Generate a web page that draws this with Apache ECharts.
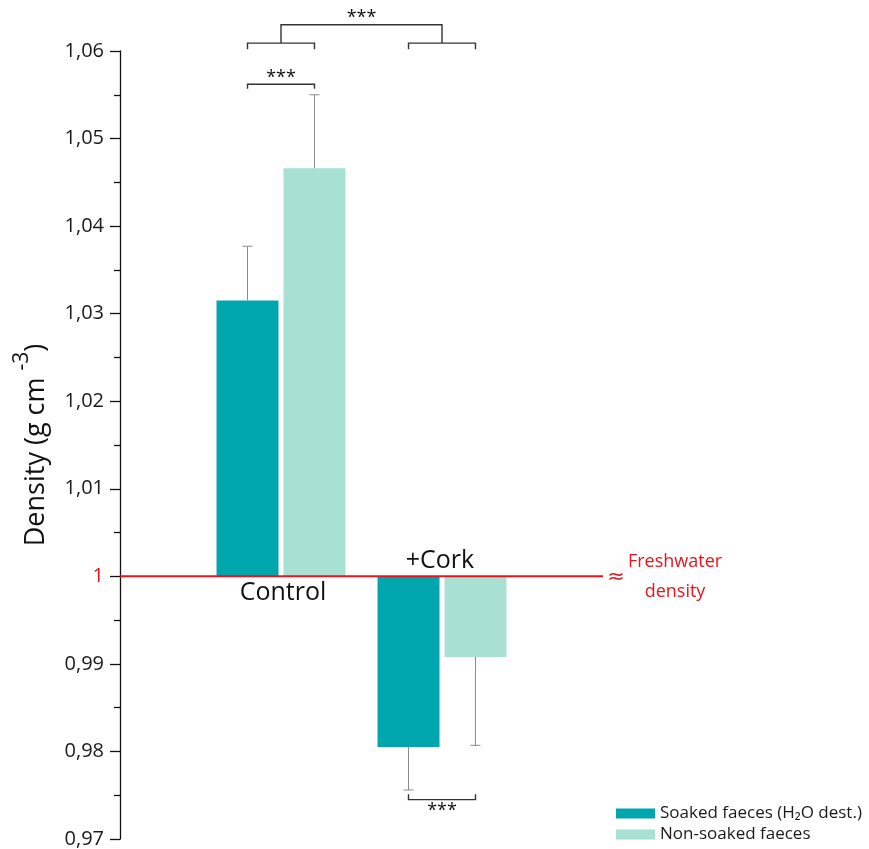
<!DOCTYPE html>
<html><head><meta charset="utf-8">
<script src="https://cdn.jsdelivr.net/npm/echarts@6/dist/echarts.min.js"></script>
<style>html,body{margin:0;padding:0;background:#fff}#c{width:869px;height:849px}</style>
</head><body><div id="c"></div>
<script>
const categories = ['Control', '+Cork'];
const seriesNames = ['Soaked faeces (H\u2082O dest.)', 'Non-soaked faeces'];
const soaked = [1.0315, 0.9805];
const soakedErr = [0.0062, 0.0049];
const nonSoaked = [1.0466, 0.9908];
const nonSoakedErr = [0.0084, 0.0101];
const yTicks = { min: 0.97, max: 1.06, interval: 0.01 };
const freshwaterDensity = 1;
// significance brackets (values in data units)
const sigWithinTop = { group: 0, y: 1.0562, drop: 1.0557, label: '***' };
const sigWithinBottom = { group: 1, y: 0.9745, drop: 0.9751, label: '***' };
const sigBetween = { y: 1.0630, small: 1.0609, smallDrop: 1.0602, label: '***' };

const FONT = 'Open Sans';
const BAR_W = 0.385, OFF = 0.208;
const colSoaked = '#00A6AE', colNon = '#A8E0D4';

function barSeries(name, vals, errs, off, color) {
  return {
    name, type: 'custom', color, itemStyle: { color },
    data: vals.map((v, i) => [i, v, errs[i]]),
    z: 2,
    renderItem(params, api) {
      const x = api.value(0) + 1 + off, v = api.value(1), e = api.value(2);
      const w = api.size([BAR_W, 0])[0];
      const p1 = api.coord([x, freshwaterDensity]);
      const p2 = api.coord([x, v]);
      const pe = api.coord([x, v >= freshwaterDensity ? v + e : v - e]);
      return { type: 'group', children: [
        { type: 'rect', shape: { x: p1[0] - w / 2, y: Math.min(p1[1], p2[1]), width: w, height: Math.abs(p2[1] - p1[1]) }, style: { fill: color } },
        { type: 'line', shape: { x1: p2[0], y1: p2[1], x2: pe[0], y2: pe[1] }, style: { stroke: '#8a8a8a', lineWidth: 1 } },
        { type: 'line', shape: { x1: pe[0] - 5, y1: pe[1], x2: pe[0] + 5, y2: pe[1] }, style: { stroke: '#8a8a8a', lineWidth: 1 } }
      ]};
    }
  };
}

function bracket(api, xa, xb, y, yd) {
  const a = api.coord([xa, y]), b = api.coord([xb, y]);
  const ad = api.coord([xa, yd]), bd = api.coord([xb, yd]);
  return { type: 'polyline', shape: { points: [ad, a, b, bd] }, style: { stroke: '#333', lineWidth: 1.4, fill: null } };
}
function star(api, x, y, dy, label) {
  const p = api.coord([x, y]);
  return { type: 'text', style: { text: label, x: p[0], y: p[1] + dy, align: 'center', verticalAlign: 'middle', font: '18px "' + FONT + '"', fill: '#111' } };
}

const option = {
  animation: false,
  grid: { left: 120, right: 266, top: 51, bottom: 7, containLabel: false },
  xAxis: { type: 'value', min: 0, max: 3, show: false },
  yAxis: {
    type: 'value', min: yTicks.min, max: yTicks.max, interval: yTicks.interval,
    axisLine: { show: true, lineStyle: { color: '#111', width: 1.3 } },
    axisTick: { show: true, length: 10, lineStyle: { color: '#111', width: 1.3 } },
    minorTick: { show: true, splitNumber: 2, length: 6, lineStyle: { color: '#111', width: 1.3 } },
    splitLine: { show: false },
    axisLabel: {
      margin: 16, fontFamily: FONT, fontSize: 20, color: '#1a1a1a',
      formatter: v => Math.abs(v - freshwaterDensity) < 1e-9 ? '{r|1}' : v.toFixed(2).replace('.', ','),
      rich: { r: { color: '#e8131b', fontFamily: FONT, fontSize: 20 } }
    },
    name: '{a|Density (g cm }{s|-3}{a|)}',
    nameLocation: 'middle', nameRotate: 90, nameGap: 70,
    nameTextStyle: { rich: {
      a: { fontFamily: FONT, fontSize: 27, color: '#111', verticalAlign: 'bottom', lineHeight: 38 },
      s: { fontFamily: FONT, fontSize: 21, color: '#111', verticalAlign: 'top', lineHeight: 38 }
    } }
  },
  legend: {
    left: 616, top: 805, padding: 0, orient: 'vertical', icon: 'rect', itemWidth: 39, itemHeight: 10, itemGap: 4,
    textStyle: { fontFamily: FONT, fontSize: 17, color: '#1a1a1a' },
    data: seriesNames
  },
  series: [
    barSeries(seriesNames[0], soaked, soakedErr, -OFF, colSoaked),
    barSeries(seriesNames[1], nonSoaked, nonSoakedErr, OFF, colNon),
    {
      type: 'line', data: [[0, freshwaterDensity], [3, freshwaterDensity]], symbol: 'none', silent: true,
      lineStyle: { color: '#e8131b', width: 2 }, z: 5
    },
    {
      type: 'custom', z: 6, silent: true,
      data: [[0]],
      renderItem(params, api) {
        const ch = [];
        const c0 = api.coord([1, freshwaterDensity]), c1 = api.coord([2, freshwaterDensity]);
        ch.push({ type: 'text', style: { text: categories[0], x: c0[0] + 2, y: c0[1] + 17, align: 'center', verticalAlign: 'middle', font: '25px "' + FONT + '"', fill: '#111' } });
        ch.push({ type: 'text', style: { text: categories[1], x: c1[0] - 2, y: c1[1] - 15, align: 'center', verticalAlign: 'middle', font: '25px "' + FONT + '"', fill: '#111' } });
        const e = api.coord([3, freshwaterDensity]);
        ch.push({ type: 'text', style: { text: '\u2248', x: e[0] + 13, y: e[1] + 1, align: 'center', verticalAlign: 'middle', font: '21px "DejaVu Sans"', fill: '#e8131b' } });
        ch.push({ type: 'text', style: { text: 'Freshwater\ndensity', x: e[0] + 72, y: e[1] + 1, align: 'center', verticalAlign: 'middle', lineHeight: 30, font: '18px "' + FONT + '"', fill: '#e8131b' } });
        const g0 = sigWithinTop.group + 1;
        ch.push(bracket(api, g0 - OFF, g0 + OFF, sigWithinTop.y, sigWithinTop.drop));
        ch.push(star(api, g0, sigWithinTop.y, -6, sigWithinTop.label));
        const g1 = sigWithinBottom.group + 1;
        ch.push(bracket(api, g1 - OFF, g1 + OFF, sigWithinBottom.y, sigWithinBottom.drop));
        ch.push(star(api, g1, sigWithinBottom.y, 11, sigWithinBottom.label));
        ch.push(bracket(api, 1 - OFF, 1 + OFF, sigBetween.small, sigBetween.smallDrop));
        ch.push(bracket(api, 2 - OFF, 2 + OFF, sigBetween.small, sigBetween.smallDrop));
        ch.push(bracket(api, 1, 2, sigBetween.y, sigBetween.small));
        ch.push(star(api, 1.5, sigBetween.y, -7, sigBetween.label));
        return { type: 'group', children: ch };
      }
    }
  ]
};
const chart = echarts.init(document.getElementById('c'));
chart.setOption(option);
</script></body></html>
